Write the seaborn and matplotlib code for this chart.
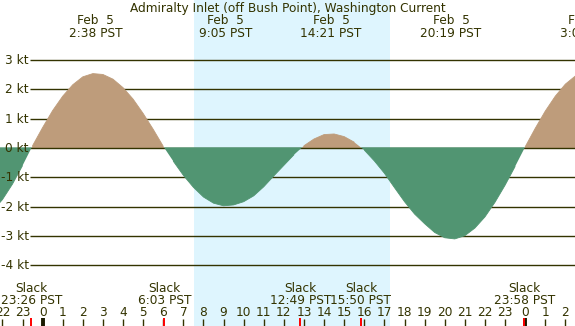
import numpy as np
import pandas as pd
import matplotlib
matplotlib.use("Agg")
import matplotlib.pyplot as plt
import matplotlib.transforms as mtransforms
import seaborn as sns

# ---------------- data ----------------
title = "Admiralty Inlet (off Bush Point), Washington Current"

# hours relative to midnight Feb 5 (PST), half-hour steps
hours = [-2.5, -2.0, -1.5, -1.0, -0.5, 0.0, 0.5, 1.0, 1.5, 2.0, 2.5, 3.0, 3.5, 4.0,
         4.5, 5.0, 5.5, 6.0, 6.5, 7.0, 7.5, 8.0, 8.5, 9.0, 9.5, 10.0, 10.5, 11.0,
         11.5, 12.0, 12.5, 13.0, 13.5, 14.0, 14.5, 15.0, 15.5, 16.0, 16.5, 17.0,
         17.5, 18.0, 18.5, 19.0, 19.5, 20.0, 20.5, 21.0, 21.5, 22.0, 22.5, 23.0,
         23.5, 24.0, 24.5, 25.0, 25.5, 26.0, 26.5, 27.0]
speed_kt = [-2.15, -1.76, -1.23, -0.60, 0.08, 0.70, 1.28, 1.77, 2.16, 2.43, 2.54, 2.51,
            2.35, 2.06, 1.67, 1.18, 0.64, 0.06, -0.45, -0.93, -1.34, -1.67, -1.88,
            -1.97, -1.94, -1.83, -1.63, -1.32, -0.95, -0.59, -0.23, 0.08, 0.31, 0.46,
            0.48, 0.39, 0.20, -0.07, -0.44, -0.86, -1.35, -1.83, -2.25, -2.58, -2.88,
            -3.06, -3.10, -2.99, -2.73, -2.35, -1.85, -1.27, -0.63, 0.04, 0.67, 1.26,
            1.77, 2.18, 2.46, 2.59]

# max current events (top labels)
max_times = [2.633, 9.083, 14.35, 20.317, 27.07]
max_labels = ["2:38 PST", "9:05 PST", "14:21 PST", "20:19 PST", "3:04 PST"]
max_dates = ["Feb  5", "Feb  5", "Feb  5", "Feb  5", "Feb  6"]

# slack events (bottom labels)
slack_times = [-0.567, 6.05, 12.817, 15.833, 23.967]
slack_labels = ["23:26 PST", "6:03 PST", "12:49 PST", "15:50 PST", "23:58 PST"]

# daylight (sunrise / sunset)
sunrise, sunset = 7.53, 17.28

kt_levels = [3, 2, 1, 0, -1, -2, -3, -4]
tick_hours = list(range(-2, 27))
midnights = [0, 24]

# ---------------- styling ----------------
night_bg = "#B0C4DE"
day_bg = "#DEF5FE"
flood_col = "#BE9C7B"
ebb_col = "#519572"
ink = "#333300"
fs = 8.7

df = pd.DataFrame({"hour": hours, "speed": speed_kt})
h = df["hour"].to_numpy()
v = df["speed"].to_numpy()

sns.set_style("white")
plt.rcParams["font.family"] = ["DejaVu Sans"]

fig = plt.figure(figsize=(5.75, 3.26), dpi=100)
ax = fig.add_axes([0, 0, 1, 1])
ax.set_xlim(-2.12, 26.48)
ax.set_ylim(-6.07, 5.05)
ax.set_facecolor(night_bg)
ax.axvspan(sunrise, sunset, color=day_bg, zorder=0, lw=0)

# horizontal reference lines
ax.hlines([k for k in kt_levels if k != 0], -0.63, 26.48, color=ink, lw=1.0, zorder=2)

# fills
ax.fill_between(h, 0, v, where=v >= 0, interpolate=True, color=flood_col, lw=0, zorder=3)
ax.hlines([0], -0.63, 26.48, color=ink, lw=1.0, zorder=4)
ax.fill_between(h, 0.025, v, where=v <= 0.025, interpolate=True, color=ebb_col, lw=0, zorder=5)

# curve edges via seaborn, one unit per flood / ebb run
sign = np.sign(v)
df["phase"] = np.where(sign >= 0, "flood", "ebb")
df["run"] = (df["phase"] != df["phase"].shift()).cumsum()
sns.lineplot(data=df[df["phase"] == "flood"], x="hour", y="speed", units="run",
             estimator=None, ax=ax, color=flood_col, lw=0.6, zorder=3)
sns.lineplot(data=df[df["phase"] == "ebb"], x="hour", y="speed", units="run",
             estimator=None, ax=ax, color=ebb_col, lw=0.6, zorder=5)

ax.set_axis_off()
ax.set_xlim(-2.12, 26.48)
ax.set_ylim(-6.07, 5.05)

# y labels
for k in kt_levels:
    ax.text(-0.70, k - 0.137, f"{k} kt", ha="right", va="baseline", color=ink,
            fontsize=fs, zorder=6)

bt = mtransforms.blended_transform_factory(ax.transData, ax.transAxes)

# title
ax.text(0.5, 0.9641, title, transform=ax.transAxes, ha="center", va="baseline",
        color=ink, fontsize=fs, zorder=7)

# max labels
for t, lab, d in zip(max_times, max_labels, max_dates):
    ax.text(t, 0.9264, d, transform=bt, ha="center", va="baseline", color=ink, fontsize=fs, zorder=7)
    ax.text(t, 0.8874, lab, transform=bt, ha="center", va="baseline", color=ink, fontsize=fs, zorder=7)

# slack labels
for t, lab in zip(slack_times, slack_labels):
    ax.text(t, 0.1052, "Slack", transform=bt, ha="center", va="baseline", color=ink, fontsize=fs, zorder=7)
    ax.text(t, 0.0675, lab, transform=bt, ha="center", va="baseline", color=ink, fontsize=fs, zorder=7)

# hour ticks and labels
for th in tick_hours:
    ax.text(th, 0.0316, str(th % 24), transform=bt, ha="center", va="baseline",
            color=ink, fontsize=fs, zorder=7)
ax.vlines(tick_hours, 0, 0.0215, transform=bt, color=ink, lw=1.0, zorder=7)
ax.vlines(midnights, 0, 0.0245, transform=bt, color="#1a1a00", lw=2.8, zorder=8)
ax.vlines(slack_times, 0, 0.0245, transform=bt, color="#ff0000", lw=1.4, zorder=9)

fig.savefig("out.png", dpi=100)
